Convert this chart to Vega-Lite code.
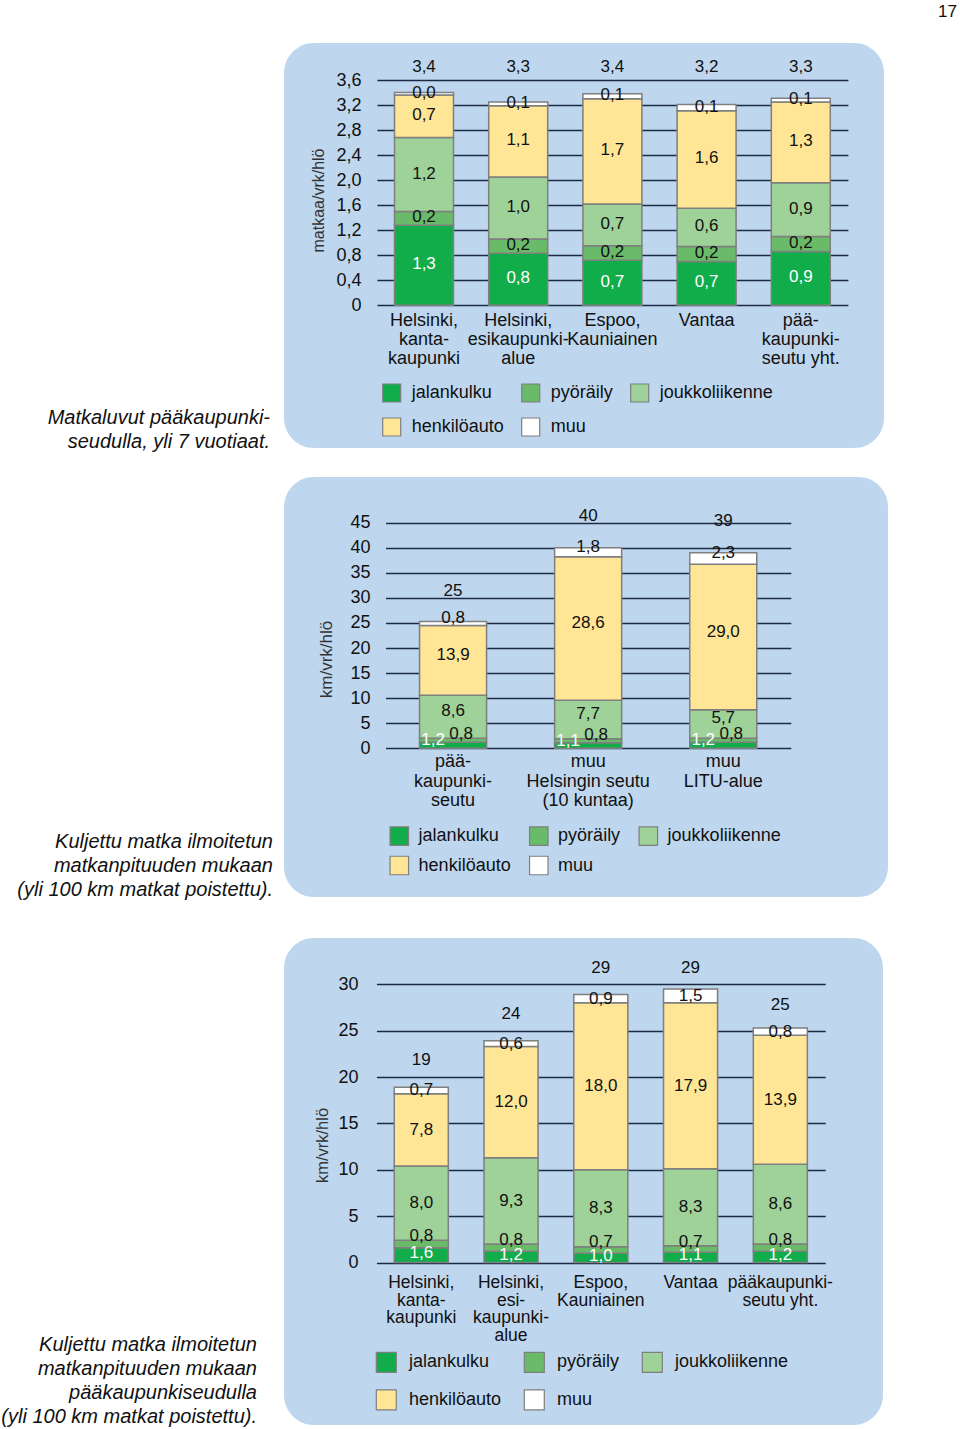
{
  "$schema": "https://vega.github.io/schema/vega-lite/v6.json",
  "background": "white",
  "padding": {"left": 1, "top": 3, "right": 0, "bottom": 0},
  "title": {"text": "17", "anchor": "end", "frame": "group", "fontSize": 17, "fontWeight": "normal", "color": "#111", "dx": 673, "offset": 22, "font": "Liberation Sans"},
  "config": {
    "locale": {"number": {"decimal": ",", "thousands": " ", "grouping": [3], "currency": ["", " €"]}},
    "font": "Liberation Sans",
    "view": {"fill": "#bed6ee", "stroke": null, "cornerRadius": 30},
    "axis": {"labelFont": "Liberation Sans", "labelColor": "#111", "titleFont": "Liberation Sans", "domain": false, "ticks": false},
    "legend": {"labelFont": "Liberation Sans", "labelColor": "#111", "padding": 0, "direction": "horizontal"},
    "text": {"font": "Liberation Sans"}
  },
  "datasets": {
    "p1": [
      {"cat": "Helsinki,|kanta-|kaupunki", "mode": "jalankulku", "value": 1.28},
      {"cat": "Helsinki,|kanta-|kaupunki", "mode": "pyöräily", "value": 0.22},
      {"cat": "Helsinki,|kanta-|kaupunki", "mode": "joukkoliikenne", "value": 1.18},
      {"cat": "Helsinki,|kanta-|kaupunki", "mode": "henkilöauto", "value": 0.68},
      {"cat": "Helsinki,|kanta-|kaupunki", "mode": "muu", "value": 0.04},
      {"cat": "Helsinki,|esikaupunki-|alue", "mode": "jalankulku", "value": 0.83},
      {"cat": "Helsinki,|esikaupunki-|alue", "mode": "pyöräily", "value": 0.23},
      {"cat": "Helsinki,|esikaupunki-|alue", "mode": "joukkoliikenne", "value": 0.99},
      {"cat": "Helsinki,|esikaupunki-|alue", "mode": "henkilöauto", "value": 1.14},
      {"cat": "Helsinki,|esikaupunki-|alue", "mode": "muu", "value": 0.06},
      {"cat": "Espoo,|Kauniainen", "mode": "jalankulku", "value": 0.72},
      {"cat": "Espoo,|Kauniainen", "mode": "pyöräily", "value": 0.23},
      {"cat": "Espoo,|Kauniainen", "mode": "joukkoliikenne", "value": 0.67},
      {"cat": "Espoo,|Kauniainen", "mode": "henkilöauto", "value": 1.68},
      {"cat": "Espoo,|Kauniainen", "mode": "muu", "value": 0.08},
      {"cat": "Vantaa", "mode": "jalankulku", "value": 0.70},
      {"cat": "Vantaa", "mode": "pyöräily", "value": 0.24},
      {"cat": "Vantaa", "mode": "joukkoliikenne", "value": 0.61},
      {"cat": "Vantaa", "mode": "henkilöauto", "value": 1.56},
      {"cat": "Vantaa", "mode": "muu", "value": 0.10},
      {"cat": "pää-|kaupunki-|seutu yht.", "mode": "jalankulku", "value": 0.86},
      {"cat": "pää-|kaupunki-|seutu yht.", "mode": "pyöräily", "value": 0.24},
      {"cat": "pää-|kaupunki-|seutu yht.", "mode": "joukkoliikenne", "value": 0.86},
      {"cat": "pää-|kaupunki-|seutu yht.", "mode": "henkilöauto", "value": 1.29},
      {"cat": "pää-|kaupunki-|seutu yht.", "mode": "muu", "value": 0.06}
    ],
    "p1t": [
      {"cat": "Helsinki,|kanta-|kaupunki", "total": 3.4},
      {"cat": "Helsinki,|esikaupunki-|alue", "total": 3.3},
      {"cat": "Espoo,|Kauniainen", "total": 3.4},
      {"cat": "Vantaa", "total": 3.2},
      {"cat": "pää-|kaupunki-|seutu yht.", "total": 3.3}
    ],
    "p2": [
      {"cat": "pää-|kaupunki-|seutu", "mode": "jalankulku", "value": 1.2},
      {"cat": "pää-|kaupunki-|seutu", "mode": "pyöräily", "value": 0.8},
      {"cat": "pää-|kaupunki-|seutu", "mode": "joukkoliikenne", "value": 8.6},
      {"cat": "pää-|kaupunki-|seutu", "mode": "henkilöauto", "value": 13.9},
      {"cat": "pää-|kaupunki-|seutu", "mode": "muu", "value": 0.8},
      {"cat": "muu|Helsingin seutu|(10 kuntaa)", "mode": "jalankulku", "value": 1.1},
      {"cat": "muu|Helsingin seutu|(10 kuntaa)", "mode": "pyöräily", "value": 0.8},
      {"cat": "muu|Helsingin seutu|(10 kuntaa)", "mode": "joukkoliikenne", "value": 7.7},
      {"cat": "muu|Helsingin seutu|(10 kuntaa)", "mode": "henkilöauto", "value": 28.6},
      {"cat": "muu|Helsingin seutu|(10 kuntaa)", "mode": "muu", "value": 1.8},
      {"cat": "muu|LITU-alue", "mode": "jalankulku", "value": 1.2},
      {"cat": "muu|LITU-alue", "mode": "pyöräily", "value": 0.8},
      {"cat": "muu|LITU-alue", "mode": "joukkoliikenne", "value": 5.7},
      {"cat": "muu|LITU-alue", "mode": "henkilöauto", "value": 29.0},
      {"cat": "muu|LITU-alue", "mode": "muu", "value": 2.3}
    ],
    "p2t": [
      {"cat": "pää-|kaupunki-|seutu", "total": 25},
      {"cat": "muu|Helsingin seutu|(10 kuntaa)", "total": 40},
      {"cat": "muu|LITU-alue", "total": 39}
    ],
    "p3": [
      {"cat": "Helsinki,|kanta-|kaupunki", "mode": "jalankulku", "value": 1.6},
      {"cat": "Helsinki,|kanta-|kaupunki", "mode": "pyöräily", "value": 0.8},
      {"cat": "Helsinki,|kanta-|kaupunki", "mode": "joukkoliikenne", "value": 8.0},
      {"cat": "Helsinki,|kanta-|kaupunki", "mode": "henkilöauto", "value": 7.8},
      {"cat": "Helsinki,|kanta-|kaupunki", "mode": "muu", "value": 0.7},
      {"cat": "Helsinki,|esi-|kaupunki-|alue", "mode": "jalankulku", "value": 1.2},
      {"cat": "Helsinki,|esi-|kaupunki-|alue", "mode": "pyöräily", "value": 0.8},
      {"cat": "Helsinki,|esi-|kaupunki-|alue", "mode": "joukkoliikenne", "value": 9.3},
      {"cat": "Helsinki,|esi-|kaupunki-|alue", "mode": "henkilöauto", "value": 12.0},
      {"cat": "Helsinki,|esi-|kaupunki-|alue", "mode": "muu", "value": 0.6},
      {"cat": "Espoo,|Kauniainen", "mode": "jalankulku", "value": 1.0},
      {"cat": "Espoo,|Kauniainen", "mode": "pyöräily", "value": 0.7},
      {"cat": "Espoo,|Kauniainen", "mode": "joukkoliikenne", "value": 8.3},
      {"cat": "Espoo,|Kauniainen", "mode": "henkilöauto", "value": 18.0},
      {"cat": "Espoo,|Kauniainen", "mode": "muu", "value": 0.9},
      {"cat": "Vantaa", "mode": "jalankulku", "value": 1.1},
      {"cat": "Vantaa", "mode": "pyöräily", "value": 0.7},
      {"cat": "Vantaa", "mode": "joukkoliikenne", "value": 8.3},
      {"cat": "Vantaa", "mode": "henkilöauto", "value": 17.9},
      {"cat": "Vantaa", "mode": "muu", "value": 1.5},
      {"cat": "pääkaupunki-|seutu yht.", "mode": "jalankulku", "value": 1.2},
      {"cat": "pääkaupunki-|seutu yht.", "mode": "pyöräily", "value": 0.8},
      {"cat": "pääkaupunki-|seutu yht.", "mode": "joukkoliikenne", "value": 8.6},
      {"cat": "pääkaupunki-|seutu yht.", "mode": "henkilöauto", "value": 13.9},
      {"cat": "pääkaupunki-|seutu yht.", "mode": "muu", "value": 0.8}
    ],
    "p3t": [
      {"cat": "Helsinki,|kanta-|kaupunki", "total": 19},
      {"cat": "Helsinki,|esi-|kaupunki-|alue", "total": 24},
      {"cat": "Espoo,|Kauniainen", "total": 29},
      {"cat": "Vantaa", "total": 29},
      {"cat": "pääkaupunki-|seutu yht.", "total": 25}
    ]
  },
  "bounds": "flush",
  "spacing": 29,
  "resolve": {"scale": {"color": "independent"}},
  "vconcat": [
    {
      "width": 600,
      "height": 405,
      "data": {"name": "p1"},
      "title": {"text": ["Matkaluvut pääkaupunki-", "seudulla, yli 7 vuotiaat."], "orient": "bottom", "anchor": "start", "frame": "group", "align": "right", "baseline": "top", "dx": -14, "dy": -40, "offset": 0, "fontSize": 20, "fontStyle": "italic", "fontWeight": "normal", "lineHeight": 24, "color": "#111", "font": "Liberation Sans"},
      "layer": [
        {
          "mark": {"type": "bar", "stroke": "#7f7f7f", "strokeWidth": 1.5},
          "transform": [{"calculate": "indexof(['jalankulku','pyöräily','joukkoliikenne','henkilöauto','muu'], datum.mode)", "as": "o"}],
          "encoding": {
            "x": {"field": "cat", "type": "nominal", "sort": null,
              "scale": {"type": "band", "range": [92.9, 563.9], "paddingInner": 0.374, "paddingOuter": 0.187},
              "axis": {"orient": "bottom", "offset": -142.7, "title": null, "labelAngle": 0, "labelPadding": 6, "labelFontSize": 18, "labelLineHeight": 19, "labelExpr": "split(datum.label, '|')", "labelOverlap": false, "labelBound": false, "labelFlush": false, "grid": false, "domain": false, "ticks": false, "labelBaseline": "top", "labelAlign": "center"}},
            "y": {"field": "value", "type": "quantitative", "stack": "zero",
              "scale": {"domain": [0, 3.6], "range": [262.3, 37], "nice": false, "zero": false},
              "axis": {"values": [0, 0.4, 0.8, 1.2, 1.6, 2.0, 2.4, 2.8, 3.2, 3.6], "format": ".1f", "labelExpr": "datum.value === 0 ? '0' : datum.label", "offset": -93, "labelPadding": 16, "labelFontSize": 18, "grid": true, "gridColor": "#1d2a45", "gridWidth": 1.6, "domain": false, "ticks": false, "title": "matkaa/vrk/hlö", "titleFontSize": 16, "titleFontWeight": "normal", "titleColor": "#333", "titleX": -59, "titleY": 157, "titleAlign": "center", "titleBaseline": "middle", "titleAngle": 270}},
            "color": {"field": "mode", "type": "nominal",
              "scale": {"domain": ["jalankulku", "pyöräily", "joukkoliikenne", "henkilöauto", "muu"], "range": ["#12ad4b", "#69bb69", "#9ed298", "#fee696", "#ffffff"]},
              "legend": {"title": null, "orient": "none", "direction": "horizontal", "legendX": 97.7, "legendY": 339.7, "columns": 3, "symbolType": "square", "symbolSize": 324, "labelFontSize": 18, "rowPadding": 10.3, "columnPadding": 14, "labelOffset": 10, "symbolStrokeColor": "#7f7f7f", "symbolStrokeWidth": 1.2}},
            "order": {"field": "o", "type": "quantitative"}
          }
        },
        {
          "mark": {"type": "text", "fontSize": 17, "dy": -1, "color": "#111"},
          "transform": [{"calculate": "indexof(['jalankulku','pyöräily','joukkoliikenne','henkilöauto','muu'], datum.mode)", "as": "o"}],
          "encoding": {
            "x": {"field": "cat", "type": "nominal", "sort": null},
            "y": {"field": "value", "type": "quantitative", "stack": "zero", "bandPosition": 0.5},
            "detail": {"field": "mode"},
            "order": {"field": "o", "type": "quantitative"},
            "text": {"field": "value", "type": "quantitative", "format": ".1f", "condition": {"test": "datum.mode === 'jalankulku'", "value": ""}}
          }
        },
        {
          "mark": {"type": "text", "fontSize": 17, "dy": -1, "color": "#ffffff"},
          "transform": [{"calculate": "indexof(['jalankulku','pyöräily','joukkoliikenne','henkilöauto','muu'], datum.mode)", "as": "o"}],
          "encoding": {
            "x": {"field": "cat", "type": "nominal", "sort": null},
            "y": {"field": "value", "type": "quantitative", "stack": "zero", "bandPosition": 0.5},
            "detail": {"field": "mode"},
            "order": {"field": "o", "type": "quantitative"},
            "text": {"field": "value", "type": "quantitative", "format": ".1f", "condition": {"test": "datum.mode !== 'jalankulku'", "value": ""}}
          }
        },
        {
          "data": {"name": "p1t"},
          "mark": {"type": "text", "fontSize": 17, "color": "#111"},
          "encoding": {
            "x": {"field": "cat", "type": "nominal", "sort": null},
            "y": {"datum": 3.8},
            "text": {"field": "total", "type": "quantitative", "format": ".1f"}
          }
        }
      ]
    },
    {
      "bounds": "flush",
      "spacing": 41,
      "resolve": {"scale": {"color": "independent"}},
      "vconcat": [
        {
          "width": 604,
          "height": 420,
          "data": {"name": "p2"},
          "title": {"text": ["Kuljettu matka ilmoitetun", "matkanpituuden mukaan", "(yli 100 km matkat poistettu)."], "orient": "bottom", "anchor": "start", "frame": "group", "align": "right", "baseline": "top", "dx": -11, "dy": -65, "offset": 0, "fontSize": 20, "fontStyle": "italic", "fontWeight": "normal", "lineHeight": 24, "color": "#111", "font": "Liberation Sans"},
          "layer": [
            {
              "mark": {"type": "bar", "stroke": "#7f7f7f", "strokeWidth": 1.5},
              "transform": [{"calculate": "indexof(['jalankulku','pyöräily','joukkoliikenne','henkilöauto','muu'], datum.mode)", "as": "o"}],
              "encoding": {
                "x": {"field": "cat", "type": "nominal", "sort": null,
                  "scale": {"type": "band", "range": [101.5, 506.8], "paddingInner": 0.504, "paddingOuter": 0.252},
                  "axis": {"orient": "bottom", "offset": -148.7, "title": null, "labelAngle": 0, "labelPadding": 4.5, "labelFontSize": 18, "labelLineHeight": 19.5, "labelExpr": "split(datum.label, '|')", "labelOverlap": false, "labelBound": false, "labelFlush": false, "grid": false, "domain": false, "ticks": false, "labelBaseline": "top", "labelAlign": "center"}},
                "y": {"field": "value", "type": "quantitative", "stack": "zero",
                  "scale": {"domain": [0, 45], "range": [271.3, 45.7], "nice": false, "zero": false},
                  "axis": {"values": [0, 5, 10, 15, 20, 25, 30, 35, 40, 45], "format": "d", "offset": -101.5, "labelPadding": 15.5, "labelFontSize": 18, "grid": true, "gridColor": "#1d2a45", "gridWidth": 1.6, "domain": false, "ticks": false, "title": "km/vrk/hlö", "titleFontSize": 17, "titleFontWeight": "normal", "titleColor": "#333", "titleX": -59.5, "titleY": 182, "titleAlign": "center", "titleBaseline": "middle", "titleAngle": 270}},
                "color": {"field": "mode", "type": "nominal",
                  "scale": {"domain": ["jalankulku", "pyöräily", "joukkoliikenne", "henkilöauto", "muu"], "range": ["#12ad4b", "#69bb69", "#9ed298", "#fee696", "#ffffff"]},
                  "legend": {"title": null, "orient": "none", "direction": "horizontal", "legendX": 105.3, "legendY": 349, "columns": 3, "symbolType": "square", "symbolSize": 342, "labelFontSize": 18, "rowPadding": 5.5, "columnPadding": 15.5, "labelOffset": 9.3, "symbolStrokeColor": "#7f7f7f", "symbolStrokeWidth": 1.2}},
                "order": {"field": "o", "type": "quantitative"}
              }
            },
            {
              "mark": {"type": "text", "fontSize": 17, "dy": -5.5, "color": "#111"},
              "transform": [{"calculate": "indexof(['jalankulku','pyöräily','joukkoliikenne','henkilöauto','muu'], datum.mode)", "as": "o"}],
              "encoding": {
                "x": {"field": "cat", "type": "nominal", "sort": null},
                "y": {"field": "value", "type": "quantitative", "stack": "zero", "bandPosition": 0.5},
                "detail": {"field": "mode"},
                "order": {"field": "o", "type": "quantitative"},
                "text": {"field": "value", "type": "quantitative", "format": ".1f", "condition": {"test": "datum.mode === 'jalankulku' || datum.mode === 'pyöräily'", "value": ""}}
              }
            },
            {
              "mark": {"type": "text", "fontSize": 17, "dx": 8, "dy": -6, "color": "#111"},
              "transform": [{"calculate": "indexof(['jalankulku','pyöräily','joukkoliikenne','henkilöauto','muu'], datum.mode)", "as": "o"}],
              "encoding": {
                "x": {"field": "cat", "type": "nominal", "sort": null},
                "y": {"field": "value", "type": "quantitative", "stack": "zero", "bandPosition": 0.5},
                "detail": {"field": "mode"},
                "order": {"field": "o", "type": "quantitative"},
                "text": {"field": "value", "type": "quantitative", "format": ".1f", "condition": {"test": "datum.mode !== 'pyöräily'", "value": ""}}
              }
            },
            {
              "mark": {"type": "text", "fontSize": 17, "dx": -20, "dy": -5, "color": "#ffffff"},
              "transform": [{"calculate": "indexof(['jalankulku','pyöräily','joukkoliikenne','henkilöauto','muu'], datum.mode)", "as": "o"}],
              "encoding": {
                "x": {"field": "cat", "type": "nominal", "sort": null},
                "y": {"field": "value", "type": "quantitative", "stack": "zero", "bandPosition": 0.5},
                "detail": {"field": "mode"},
                "order": {"field": "o", "type": "quantitative"},
                "text": {"field": "value", "type": "quantitative", "format": ".1f", "condition": {"test": "datum.mode !== 'jalankulku'", "value": ""}}
              }
            },
            {
              "data": {"name": "p2t"},
              "mark": {"type": "text", "fontSize": 17, "dy": -32, "color": "#111"},
              "encoding": {
                "x": {"field": "cat", "type": "nominal", "sort": null},
                "y": {"field": "total", "type": "quantitative"},
                "text": {"field": "total", "type": "quantitative", "format": "d"}
              }
            }
          ]
        },
        {
          "width": 599,
          "height": 487,
          "data": {"name": "p3"},
          "title": {"text": ["Kuljettu matka ilmoitetun", "matkanpituuden mukaan", "pääkaupunkiseudulla", "(yli 100 km matkat poistettu)."], "orient": "bottom", "anchor": "start", "frame": "group", "align": "right", "baseline": "top", "dx": -27, "dy": -90, "offset": 0, "fontSize": 20, "fontStyle": "italic", "fontWeight": "normal", "lineHeight": 24, "color": "#111", "font": "Liberation Sans"},
          "layer": [
            {
              "mark": {"type": "bar", "stroke": "#7f7f7f", "strokeWidth": 1.5},
              "transform": [{"calculate": "indexof(['jalankulku','pyöräily','joukkoliikenne','henkilöauto','muu'], datum.mode)", "as": "o"}],
              "encoding": {
                "x": {"field": "cat", "type": "nominal", "sort": null,
                  "scale": {"type": "band", "range": [92.4, 541.2], "paddingInner": 0.398, "paddingOuter": 0.199},
                  "axis": {"orient": "bottom", "offset": -162.5, "title": null, "labelAngle": 0, "labelPadding": 11, "labelFontSize": 17.5, "labelLineHeight": 17.5, "labelExpr": "split(datum.label, '|')", "labelOverlap": false, "labelBound": false, "labelFlush": false, "grid": false, "domain": false, "ticks": false, "labelBaseline": "top", "labelAlign": "center"}},
                "y": {"field": "value", "type": "quantitative", "stack": "zero",
                  "scale": {"domain": [0, 30], "range": [324.5, 46.3], "nice": false, "zero": false},
                  "axis": {"values": [0, 5, 10, 15, 20, 25, 30], "format": "d", "offset": -92.4, "labelPadding": 18.4, "labelFontSize": 18, "grid": true, "gridColor": "#1d2a45", "gridWidth": 1.6, "domain": false, "ticks": false, "title": "km/vrk/hlö", "titleFontSize": 16.5, "titleFontWeight": "normal", "titleColor": "#333", "titleX": -54.4, "titleY": 207, "titleAlign": "center", "titleBaseline": "middle", "titleAngle": 270}},
                "color": {"field": "mode", "type": "nominal",
                  "scale": {"domain": ["jalankulku", "pyöräily", "joukkoliikenne", "henkilöauto", "muu"], "range": ["#12ad4b", "#69bb69", "#9ed298", "#fee696", "#ffffff"]},
                  "legend": {"title": null, "orient": "none", "direction": "horizontal", "legendX": 91.3, "legendY": 413, "columns": 3, "symbolType": "square", "symbolSize": 400, "labelFontSize": 18, "rowPadding": 11.8, "columnPadding": 20, "labelOffset": 11.7, "symbolStrokeColor": "#7f7f7f", "symbolStrokeWidth": 1.2}},
                "order": {"field": "o", "type": "quantitative"}
              }
            },
            {
              "mark": {"type": "text", "fontSize": 17, "dy": 0, "color": "#111"},
              "transform": [{"calculate": "indexof(['jalankulku','pyöräily','joukkoliikenne','henkilöauto','muu'], datum.mode)", "as": "o"}],
              "encoding": {
                "x": {"field": "cat", "type": "nominal", "sort": null},
                "y": {"field": "value", "type": "quantitative", "stack": "zero", "bandPosition": 0.5},
                "detail": {"field": "mode"},
                "order": {"field": "o", "type": "quantitative"},
                "text": {"field": "value", "type": "quantitative", "format": ".1f", "condition": {"test": "datum.mode === 'jalankulku' || datum.mode === 'pyöräily'", "value": ""}}
              }
            },
            {
              "mark": {"type": "text", "fontSize": 17, "dy": -7.5, "color": "#111"},
              "transform": [{"calculate": "indexof(['jalankulku','pyöräily','joukkoliikenne','henkilöauto','muu'], datum.mode)", "as": "o"}],
              "encoding": {
                "x": {"field": "cat", "type": "nominal", "sort": null},
                "y": {"field": "value", "type": "quantitative", "stack": "zero", "bandPosition": 0.5},
                "detail": {"field": "mode"},
                "order": {"field": "o", "type": "quantitative"},
                "text": {"field": "value", "type": "quantitative", "format": ".1f", "condition": {"test": "datum.mode !== 'pyöräily'", "value": ""}}
              }
            },
            {
              "mark": {"type": "text", "fontSize": 17, "dy": -2, "color": "#ffffff"},
              "transform": [{"calculate": "indexof(['jalankulku','pyöräily','joukkoliikenne','henkilöauto','muu'], datum.mode)", "as": "o"}],
              "encoding": {
                "x": {"field": "cat", "type": "nominal", "sort": null},
                "y": {"field": "value", "type": "quantitative", "stack": "zero", "bandPosition": 0.5},
                "detail": {"field": "mode"},
                "order": {"field": "o", "type": "quantitative"},
                "text": {"field": "value", "type": "quantitative", "format": ".1f", "condition": {"test": "datum.mode !== 'jalankulku'", "value": ""}}
              }
            },
            {
              "data": {"name": "p3t"},
              "mark": {"type": "text", "fontSize": 17, "dy": -26, "color": "#111"},
              "encoding": {
                "x": {"field": "cat", "type": "nominal", "sort": null},
                "y": {"field": "total", "type": "quantitative"},
                "text": {"field": "total", "type": "quantitative", "format": "d"}
              }
            }
          ]
        }
      ]
    }
  ]
}
